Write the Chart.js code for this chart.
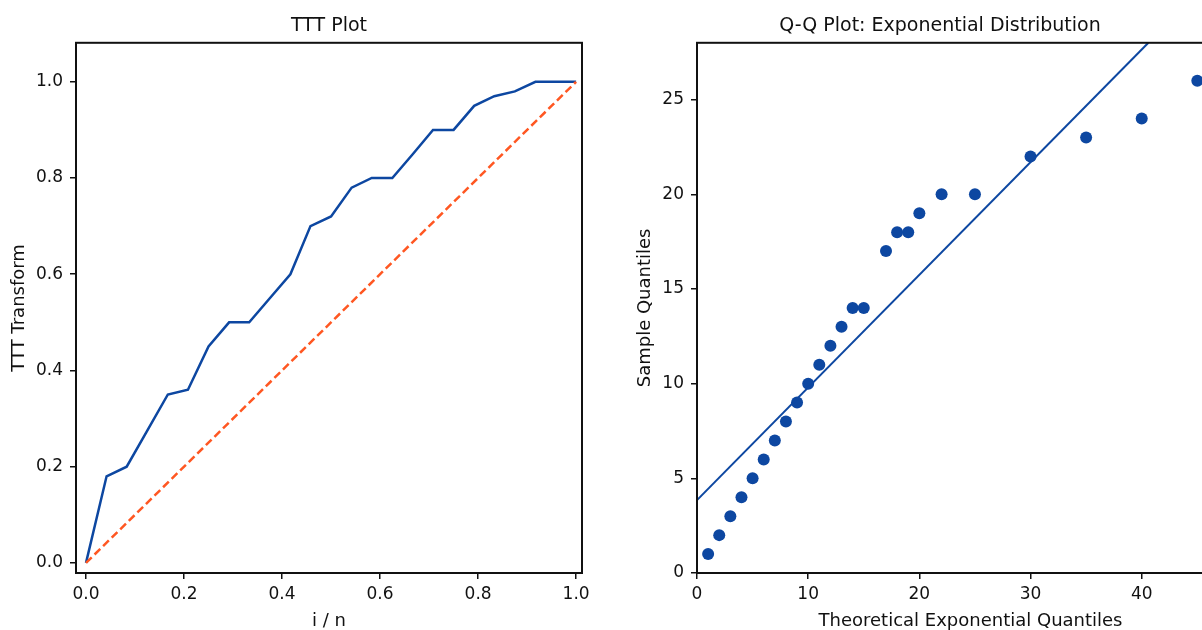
<!DOCTYPE html>
<html>
<head>
<meta charset="utf-8">
<script src="https://cdn.jsdelivr.net/npm/chart.js@4.4.1/dist/chart.umd.min.js"></script>
<style>
html, body { margin: 0; padding: 0; background: #fff; overflow: hidden; }
#ttt { position: absolute; left: 0; top: 0; }
#qq { position: absolute; left: 630px; top: 0; }
</style>
</head>
<body>
<canvas id="ttt" width="630" height="630"></canvas>
<canvas id="qq" width="620" height="630"></canvas>
<script>
// TTT plot: i/n against the TTT transform, n = 24
const tttX = [0, 0.042, 0.083, 0.125, 0.167, 0.208, 0.25, 0.292, 0.333, 0.375, 0.417, 0.458, 0.5,
	0.542, 0.583, 0.625, 0.667, 0.708, 0.75, 0.792, 0.833, 0.875, 0.917, 0.958, 1.0];
const tttY = [0, 0.18, 0.20, 0.275, 0.35, 0.36, 0.45, 0.50, 0.50, 0.55, 0.60, 0.70, 0.72,
	0.78, 0.80, 0.80, 0.85, 0.90, 0.90, 0.95, 0.97, 0.98, 1.0, 1.0, 1.0];
const diagX = [0, 1];
const diagY = [0, 1];

// Q-Q plot against the exponential distribution
const qqX = [1, 2, 3, 4, 5, 6, 7, 8, 9, 10, 11, 12, 13, 14, 15, 17, 18, 19, 20, 22, 25, 30, 35, 40, 45];
const qqY = [1, 2, 3, 4, 5, 6, 7, 8, 9, 10, 11, 12, 13, 14, 14, 17, 18, 18, 19, 20, 20, 22, 23, 24, 26];
const fitX = [0, 40.6];
const fitY = [3.85, 28];

const BLUE = '#0d47a1';
const ORANGE = '#ff5722';
const INK = '#111111';
const FONT = 'DejaVu Sans';

function pairs(xs, ys) {
	return xs.map((x, i) => ({x: x, y: ys[i]}));
}

// matplotlib-like box round the plot area
const framePlugin = {
	id: 'frame',
	afterDatasetsDraw(chart) {
		const a = chart.chartArea;
		const ctx = chart.ctx;
		ctx.save();
		ctx.strokeStyle = INK;
		ctx.lineWidth = 2;
		ctx.strokeRect(a.left, a.top, a.right - a.left, a.bottom - a.top);
		ctx.restore();
	}
};

function axis(opts) {
	return {
		type: 'linear',
		position: opts.position,
		min: opts.min,
		max: opts.max,
		afterFit: opts.afterFit,
		border: {display: false},
		grid: {drawOnChartArea: false, drawTicks: true, tickLength: 6, color: INK, lineWidth: 1.5},
		ticks: {
			stepSize: opts.step,
			includeBounds: false,
			padding: opts.padding,
			color: INK,
			font: {family: FONT, size: 17},
			callback: opts.format
		},
		title: {
			display: true,
			text: opts.title,
			color: INK,
			font: {family: FONT, size: 18, lineHeight: 1.0},
			padding: opts.titlePadding
		}
	};
}

Chart.defaults.animation = false;
Chart.defaults.devicePixelRatio = 1;

new Chart(document.getElementById('ttt'), {
	type: 'scatter',
	data: {
		datasets: [{
			data: pairs(diagX, diagY),
			showLine: true,
			borderColor: ORANGE,
			borderWidth: 2.5,
			borderDash: [8, 4],
			pointRadius: 0,
			order: 0
		}, {
			data: pairs(tttX, tttY),
			showLine: true,
			borderColor: BLUE,
			borderWidth: 2.5,
			pointRadius: 0,
			order: 1
		}]
	},
	options: {
		responsive: false,
		layout: {padding: {right: 48}},
		plugins: {
			legend: {display: false},
			tooltip: {enabled: false},
			title: {
				display: true,
				text: 'TTT Plot',
				fullSize: false,
				color: INK,
				font: {family: FONT, size: 19, weight: 'normal'},
				padding: {top: 15, bottom: 5}
			}
		},
		scales: {
			x: axis({
				position: 'bottom', min: -0.0204, max: 1.012, step: 0.2, padding: 5,
				title: 'i / n', titlePadding: {top: 0, bottom: 0},
				format: v => v.toFixed(1),
				afterFit: s => { s.height = 57; }
			}),
			y: axis({
				position: 'left', min: -0.021, max: 1.081, step: 0.2, padding: 7,
				title: 'TTT Transform', titlePadding: {top: 10, bottom: 0},
				format: v => v.toFixed(1),
				afterFit: s => { s.width = 76; }
			})
		}
	},
	plugins: [framePlugin]
});

new Chart(document.getElementById('qq'), {
	type: 'scatter',
	data: {
		datasets: [{
			data: pairs(fitX, fitY),
			showLine: true,
			borderColor: BLUE,
			borderWidth: 2,
			pointRadius: 0,
			order: 0
		}, {
			data: pairs(qqX, qqY),
			backgroundColor: BLUE,
			borderWidth: 0,
			pointRadius: 6,
			order: 1
		}]
	},
	options: {
		responsive: false,
		plugins: {
			legend: {display: false},
			tooltip: {enabled: false},
			title: {
				display: true,
				text: 'Q-Q Plot: Exponential Distribution',
				color: INK,
				font: {family: FONT, size: 19, weight: 'normal'},
				padding: {top: 15, bottom: 5}
			}
		},
		scales: {
			x: axis({
				position: 'bottom', min: 0, max: 49.2, step: 10, padding: 5,
				title: 'Theoretical Exponential Quantiles', titlePadding: {top: 0, bottom: 0},
				format: v => String(v),
				afterFit: s => { s.height = 57; }
			}),
			y: axis({
				position: 'left', min: 0, max: 28, step: 5, padding: 7,
				title: 'Sample Quantiles', titlePadding: {top: 6, bottom: 0},
				format: v => String(v),
				afterFit: s => { s.width = 67; }
			})
		}
	},
	plugins: [framePlugin]
});
</script>
</body>
</html>
